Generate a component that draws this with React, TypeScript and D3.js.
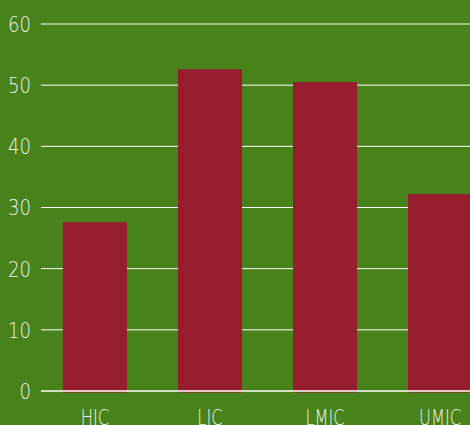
import React from "react";
import * as d3 from "d3";

const categories: string[] = ["HIC", "LIC", "LMIC", "UMIC"];
const values: number[] = [27.6, 52.6, 50.5, 32.2];
const yTicks: number[] = [0, 10, 20, 30, 40, 50, 60];

const W = 470;
const H = 425;
const BG = "#47821b";
const BAR = "#951d2d";
const TEXT = "#eef3ea";
const FONT = "'DejaVu Sans', sans-serif";

export default function App() {
  const y = d3.scaleLinear().domain([0, 60]).range([391, 24]);
  const x = d3
    .scaleBand<string>()
    .domain(categories)
    .range([41, 494])
    .paddingInner(0.443)
    .paddingOuter(0.19);

  const gridX0 = 41;
  const textStyle: React.CSSProperties = {
    fontFamily: FONT,
    fontWeight: 200,
    fontSize: 22,
  };
  return (
    <>
      <style>{"body{margin:0}"}</style>
      <svg width={W} height={H} style={{ display: "block" }}>
        <rect x={0} y={0} width={W} height={H} fill={BG} />
        {yTicks
          .filter((t) => t !== 0)
          .map((t) => (
            <line
              key={"g" + t}
              x1={gridX0}
              x2={W}
              y1={y(t)}
              y2={y(t)}
              stroke="#ffffff"
              strokeWidth={1}
            />
          ))}
        {categories.map((c, i) => (
          <rect
            key={c}
            x={x(c)}
            y={y(values[i])}
            width={x.bandwidth()}
            height={y(0) - y(values[i]) + 1.5}
            fill={BAR}
          />
        ))}
        <line x1={gridX0} x2={W} y1={y(0)} y2={y(0)} stroke="#ffffff" strokeWidth={1.5} />
        {yTicks.map((t) => (
          <g key={"t" + t} transform={`translate(31,${y(t)}) scale(0.82,1)`}>
            <text dy="0.36em" textAnchor="end" fill={TEXT} style={textStyle}>
              {t}
            </text>
          </g>
        ))}
        {categories.map((c) => (
          <g
            key={"l" + c}
            transform={`translate(${(x(c) as number) + x.bandwidth() / 2},425) scale(0.74,1)`}
          >
            <text textAnchor="middle" fill={TEXT} style={textStyle}>
              {c}
            </text>
          </g>
        ))}
      </svg>
    </>
  );
}
